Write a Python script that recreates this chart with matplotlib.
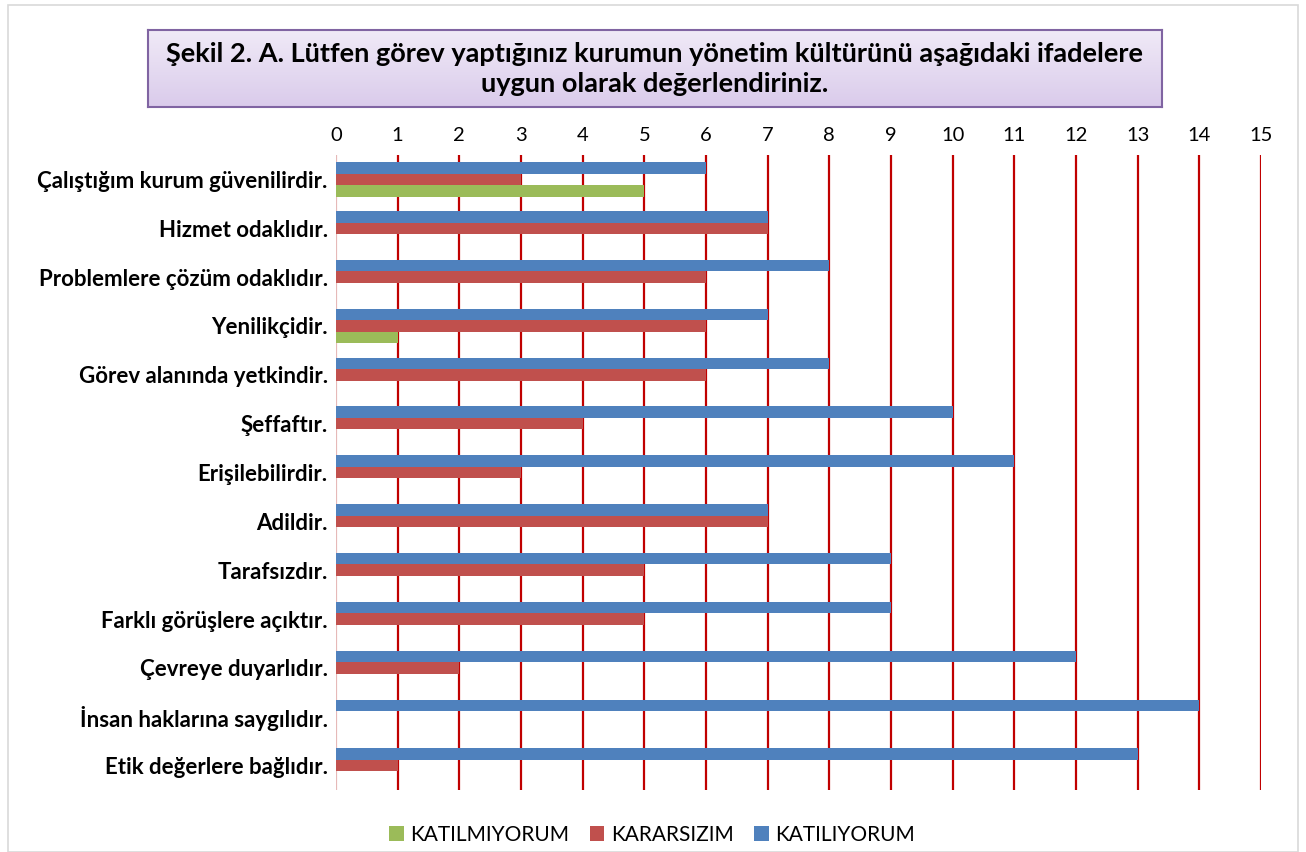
import matplotlib
matplotlib.use("Agg")
import matplotlib.pyplot as plt
import numpy as np
from matplotlib.patches import Rectangle

categories = [
    "Çalıştığım kurum güvenilirdir.",
    "Hizmet odaklıdır.",
    "Problemlere çözüm odaklıdır.",
    "Yenilikçidir.",
    "Görev alanında yetkindir.",
    "Şeffaftır.",
    "Erişilebilirdir.",
    "Adildir.",
    "Tarafsızdır.",
    "Farklı görüşlere açıktır.",
    "Çevreye duyarlıdır.",
    "İnsan haklarına saygılıdır.",
    "Etik değerlere bağlıdır.",
]
katiliyorum = [6, 7, 8, 7, 8, 10, 11, 7, 9, 9, 12, 14, 13]
kararsizim = [3, 7, 6, 6, 6, 4, 3, 7, 5, 5, 2, 0, 1]
katilmiyorum = [5, 0, 0, 1, 0, 0, 0, 0, 0, 0, 0, 0, 0]
xticks = list(range(0, 16))
title = "Şekil 2. A. Lütfen görev yaptığınız kurumun yönetim kültürünü aşağıdaki ifadelere\nuygun olarak değerlendiriniz."

FONT = ["Lato", "DejaVu Sans"]
plt.rcParams["font.family"] = FONT

W, H = 1306, 852
fig = plt.figure(figsize=(W / 100, H / 100), dpi=100)

# outer border
fig.patches.append(Rectangle((8 / W, 0), (W - 16) / W, (H - 5) / H, transform=fig.transFigure,
                             fill=False, edgecolor="#D9D9D9", lw=1.2))

ax = fig.add_axes([336 / W, 1 - 790 / H, (1261 - 336) / W, (790 - 155) / H])
y = np.arange(len(categories))
h = 0.235
c_blue, c_red, c_green = "#4F81BD", "#C0504D", "#9BBB59"
ax.barh(y - h, katiliyorum, height=h, color=c_blue, zorder=3, label="KATILIYORUM")
ax.barh(y, kararsizim, height=h, color=c_red, zorder=3, label="KARARSIZIM")
ax.barh(y + h, katilmiyorum, height=h, color=c_green, zorder=3, label="KATILMIYORUM")

ax.set_xlim(0, 15)
ax.set_ylim(len(categories) - 0.5, -0.5)
ax.set_xticks(xticks)
ax.xaxis.tick_top()
ax.tick_params(axis="x", length=0, pad=8, labelsize=14.5)
ax.set_yticks(y)
ax.set_yticklabels(categories, fontsize=16, fontweight="bold")
ax.tick_params(axis="y", length=0, pad=6)
for s in ax.spines.values():
    s.set_visible(False)
for xv in xticks[1:]:
    ax.axvline(xv, color="#C00000", lw=1.6, zorder=1)
ax.axvline(0, color="#E6B9B8", lw=1.6, zorder=2)

# title box
tax = fig.add_axes([148 / W, 1 - 107 / H, (1162 - 148) / W, (107 - 30) / H])
grad = np.linspace(0, 1, 100).reshape(-1, 1)
top = np.array([0xF0, 0xEA, 0xF7]) / 255
bot = np.array([0xDA, 0xCB, 0xEB]) / 255
img = top + (bot - top) * grad[:, :, None]
tax.imshow(img, aspect="auto", extent=[0, 1, 0, 1])
tax.set_xlim(0, 1)
tax.set_ylim(0, 1)
tax.set_xticks([])
tax.set_yticks([])
for s in tax.spines.values():
    s.set_color("#8064A2")
    s.set_linewidth(1.5)
tax.text(0.5, 0.5, title, ha="center", va="center", fontsize=19.5, fontweight="bold",
         linespacing=1.3, color="black")

handles, labels = ax.get_legend_handles_labels()
order = [2, 1, 0]
fig.legend([handles[i] for i in order], [labels[i] for i in order], loc="center",
           bbox_to_anchor=(652 / W, 1 - 835 / H), ncol=3, frameon=False, fontsize=15,
           handlelength=0.7, handleheight=0.7, handletextpad=0.3, columnspacing=1.0)

fig.savefig("out.png", dpi=100)
